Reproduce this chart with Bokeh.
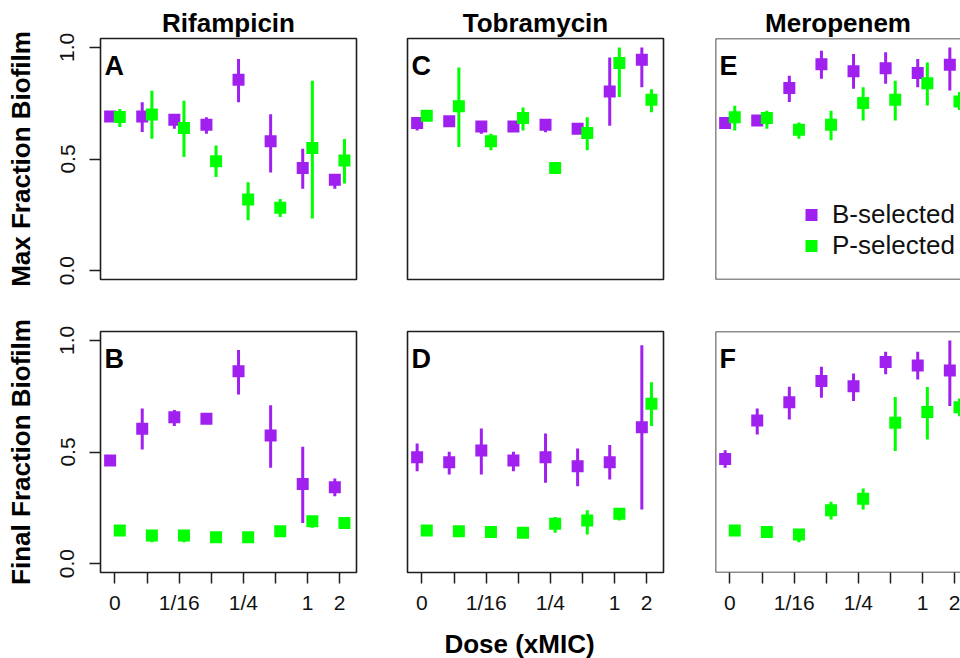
import numpy as np
from bokeh.plotting import figure
from bokeh.layouts import row, column
from bokeh.models import (Range1d, FixedTicker, Span, Label, Legend, LegendItem,
                          Title, PrintfTickFormatter)
from bokeh.embed import file_html
from bokeh.resources import INLINE

# ---------------- data ----------------
doses = [0, 1, 2, 3, 4, 5, 6, 7]
dose_labels = ["0", "", "1/16", "", "1/4", "", "1", "2"]
drugs = ["Rifampicin", "Tobramycin", "Meropenem"]
row_titles = ["Max Fraction Biofilm", "Final Fraction Biofilm"]
panel_letters = [["A", "C", "E"], ["B", "D", "F"]]
series_names = ["B-selected", "P-selected"]
x_title = "Dose (xMIC)"

# Panel A: Rifampicin, max fraction
rif_max_B = [0.690, 0.690, 0.676, 0.654, 0.855, 0.579, 0.460, 0.407]
rif_max_B_lo = [0.670, 0.621, 0.636, 0.613, 0.754, 0.440, 0.367, 0.367]
rif_max_B_hi = [0.700, 0.754, 0.690, 0.687, 0.948, 0.701, 0.546, 0.420]
rif_max_P = [0.688, 0.699, 0.639, 0.490, 0.318, 0.281, 0.549, 0.493]
rif_max_P_lo = [0.643, 0.591, 0.509, 0.419, 0.225, 0.240, 0.233, 0.390]
rif_max_P_hi = [0.724, 0.806, 0.761, 0.560, 0.396, 0.321, 0.851, 0.590]

# Panel C: Tobramycin, max fraction
tob_max_B = [0.661, 0.669, 0.646, 0.646, 0.654, 0.636, 0.803, 0.945]
tob_max_B_lo = [0.628, 0.660, 0.613, 0.640, 0.620, 0.630, 0.649, 0.822]
tob_max_B_hi = [0.670, 0.675, 0.655, 0.650, 0.660, 0.640, 0.955, 1.000]
tob_max_P = [0.694, 0.736, 0.579, 0.684, 0.460, 0.616, 0.930, 0.766]
tob_max_P_lo = [0.690, 0.554, 0.539, 0.628, 0.455, 0.539, 0.778, 0.710]
tob_max_P_hi = [0.700, 0.910, 0.613, 0.731, 0.465, 0.687, 1.000, 0.813]

# Panel E: Meropenem, max fraction
mer_max_B = [0.661, 0.672, 0.818, 0.925, 0.893, 0.907, 0.885, 0.922]
mer_max_B_lo = [0.655, 0.665, 0.755, 0.860, 0.815, 0.837, 0.822, 0.807]
mer_max_B_hi = [0.665, 0.678, 0.873, 0.985, 0.970, 0.978, 0.948, 1.000]
mer_max_P = [0.687, 0.684, 0.631, 0.654, 0.751, 0.766, 0.840, 0.758]
mer_max_P_lo = [0.628, 0.636, 0.591, 0.584, 0.673, 0.673, 0.740, 0.720]
mer_max_P_hi = [0.739, 0.716, 0.664, 0.716, 0.821, 0.851, 0.933, 0.800]

# Panel B: Rifampicin, final fraction
rif_fin_B = [0.462, 0.604, 0.656, 0.649, 0.862, 0.574, 0.357, 0.342]
rif_fin_B_lo = [0.455, 0.511, 0.616, 0.645, 0.758, 0.429, 0.182, 0.302]
rif_fin_B_hi = [0.468, 0.695, 0.688, 0.652, 0.957, 0.709, 0.523, 0.381]
rif_fin_P = [0.148, 0.126, 0.126, 0.118, 0.118, 0.145, 0.190, 0.182]
rif_fin_P_lo = [0.145, 0.096, 0.096, 0.115, 0.115, 0.140, 0.160, 0.178]
rif_fin_P_hi = [0.150, 0.130, 0.130, 0.120, 0.120, 0.150, 0.195, 0.186]

# Panel D: Tobramycin, final fraction
tob_fin_B = [0.477, 0.454, 0.507, 0.462, 0.477, 0.436, 0.454, 0.611]
tob_fin_B_lo = [0.414, 0.399, 0.399, 0.414, 0.362, 0.347, 0.377, 0.242]
tob_fin_B_hi = [0.538, 0.501, 0.605, 0.501, 0.583, 0.516, 0.531, 0.978]
tob_fin_P = [0.148, 0.145, 0.141, 0.138, 0.178, 0.193, 0.223, 0.716]
tob_fin_P_lo = [0.145, 0.142, 0.138, 0.135, 0.138, 0.130, 0.193, 0.616]
tob_fin_P_hi = [0.150, 0.148, 0.144, 0.141, 0.209, 0.239, 0.228, 0.813]

# Panel F: Meropenem, final fraction
mer_fin_B = [0.469, 0.641, 0.723, 0.818, 0.795, 0.903, 0.888, 0.865]
mer_fin_B_lo = [0.429, 0.578, 0.646, 0.743, 0.728, 0.848, 0.825, 0.706]
mer_fin_B_hi = [0.508, 0.695, 0.792, 0.882, 0.852, 0.949, 0.949, 1.000]
mer_fin_P = [0.148, 0.141, 0.130, 0.239, 0.290, 0.631, 0.679, 0.701]
mer_fin_P_lo = [0.145, 0.138, 0.096, 0.197, 0.242, 0.504, 0.556, 0.660]
mer_fin_P_hi = [0.150, 0.144, 0.135, 0.277, 0.336, 0.746, 0.791, 0.740]

panels = [
    [(rif_max_B, rif_max_B_lo, rif_max_B_hi, rif_max_P, rif_max_P_lo, rif_max_P_hi),
     (tob_max_B, tob_max_B_lo, tob_max_B_hi, tob_max_P, tob_max_P_lo, tob_max_P_hi),
     (mer_max_B, mer_max_B_lo, mer_max_B_hi, mer_max_P, mer_max_P_lo, mer_max_P_hi)],
    [(rif_fin_B, rif_fin_B_lo, rif_fin_B_hi, rif_fin_P, rif_fin_P_lo, rif_fin_P_hi),
     (tob_fin_B, tob_fin_B_lo, tob_fin_B_hi, tob_fin_P, tob_fin_P_lo, tob_fin_P_hi),
     (mer_fin_B, mer_fin_B_lo, mer_fin_B_hi, mer_fin_P, mer_fin_P_lo, mer_fin_P_hi)],
]

# ---------------- style ----------------
PURPLE = "#A020F0"
GREEN = "#00FF00"
FONT = "Liberation Sans"
BOX = "#1e1e1e"
PX = 32.1          # pixels per dose step
X0 = -0.45
Y0, Y1 = -0.04, 1.04
FH = 241
OFF = 0.15

def make_panel(i, j):
    top = i == 0
    left = j == 0
    last = j == 2
    fw = 245 if last else 256
    p = figure(frame_width=fw, frame_height=FH, output_backend="svg",
               toolbar_location=None,
               x_range=Range1d(X0, X0 + fw / PX), y_range=Range1d(Y0, Y1),
               min_border_left=100 if left else 26,
               min_border_right=25 if j == 0 else (26 if j == 1 else 0),
               min_border_top=38 if top else 26,
               min_border_bottom=26 if top else 46,
               x_axis_location=None if top else "below",
               y_axis_location="left" if left else None)
    p.grid.visible = False
    p.background_fill_color = "white"
    p.border_fill_color = "white"
    if last:
        p.outline_line_color = None
        for loc, dim in [(Y1, "width"), (Y0, "width"), (X0, "height")]:
            p.add_layout(Span(location=loc, dimension=dim, line_color=BOX,
                              line_width=1.6))
    else:
        p.outline_line_color = BOX
        p.outline_line_width = 1.6
        p.outline_line_alpha = 1.0

    Bm, Blo, Bhi, Pm, Plo, Phi = panels[i][j]
    x = np.array(doses, dtype=float)
    xb = x - OFF
    xp = x + OFF
    p.segment(x0=xb, y0=Blo, x1=xb, y1=Bhi, line_color=PURPLE, line_width=3)
    rB = p.scatter(xb, Bm, marker="square", size=12, fill_color=PURPLE,
                   line_color=PURPLE, line_width=0)
    p.segment(x0=xp, y0=Plo, x1=xp, y1=Phi, line_color=GREEN, line_width=3)
    rP = p.scatter(xp, Pm, marker="square", size=12, fill_color=GREEN,
                   line_color=GREEN, line_width=0)

    if left:
        ax = p.yaxis[0]
        ax.ticker = FixedTicker(ticks=[0.0, 0.5, 1.0])
        ax.formatter = PrintfTickFormatter(format="%.1f")
        ax.major_label_orientation = "vertical"
        ax.major_tick_out = 11
        ax.major_tick_in = 0
        ax.minor_tick_line_color = None
        ax.axis_line_color = None
        ax.major_tick_line_color = BOX
        ax.major_tick_line_width = 1.5
        ax.major_label_text_font = FONT
        ax.major_label_text_font_size = "21px"
        ax.major_label_text_color = "#111111"
        ax.major_label_standoff = 15
        ax.axis_label = row_titles[i]
        ax.axis_label_text_font = FONT
        ax.axis_label_text_font_size = "26px"
        ax.axis_label_text_font_style = "bold"
        ax.axis_label_text_color = "black"
        ax.axis_label_standoff = 22

    if not top:
        ax = p.xaxis[0]
        ax.ticker = FixedTicker(ticks=doses)
        ax.major_label_overrides = {d: lab for d, lab in zip(doses, dose_labels)}
        ax.major_tick_out = 11
        ax.major_tick_in = 0
        ax.minor_tick_line_color = None
        ax.axis_line_color = None
        ax.major_tick_line_color = BOX
        ax.major_tick_line_width = 1.5
        ax.major_label_text_font = FONT
        ax.major_label_text_font_size = "21px"
        ax.major_label_text_color = "#111111"
        ax.major_label_standoff = 7

    if top:
        p.add_layout(Title(text=drugs[j], align="center", text_font=FONT,
                           text_font_size="26px", text_font_style="bold",
                           text_color="black", standoff=2), "above")

    p.add_layout(Label(x=4, y=FH - 27, x_units="screen", y_units="screen",
                       text=panel_letters[i][j], text_font=FONT,
                       text_font_size="27px", text_font_style="bold",
                       text_color="black", text_baseline="alphabetic"))

    if top and last:
        legend = Legend(items=[LegendItem(label=series_names[0], renderers=[rB]),
                               LegendItem(label=series_names[1], renderers=[rP])],
                        location=(81, 18), glyph_width=30, glyph_height=31,
                        label_height=31, label_standoff=6, spacing=0,
                        padding=0, margin=0, border_line_color=None,
                        background_fill_alpha=0, label_text_font=FONT,
                        label_text_font_size="26px", label_text_color="#111111")
        p.add_layout(legend)
    return p

figs = [[make_panel(i, j) for j in range(3)] for i in range(2)]

# strip under the panels carrying the common x-axis title
strip = figure(width=960, height=40, output_backend="svg", toolbar_location=None,
               min_border=0, x_axis_location=None, y_axis_location=None,
               x_range=Range1d(0, 1), y_range=Range1d(0, 1))
strip.outline_line_color = None
strip.grid.visible = False
strip.background_fill_color = "white"
strip.border_fill_color = "white"
strip.add_layout(Label(x=519, y=15, x_units="screen", y_units="screen",
                       text=x_title, text_font=FONT, text_font_size="26px",
                       text_font_style="bold", text_color="black",
                       text_align="center", text_baseline="middle"))

layout = column(row(*figs[0]), row(*figs[1]), strip)

open("out.html", "w").write(file_html(layout, INLINE))
